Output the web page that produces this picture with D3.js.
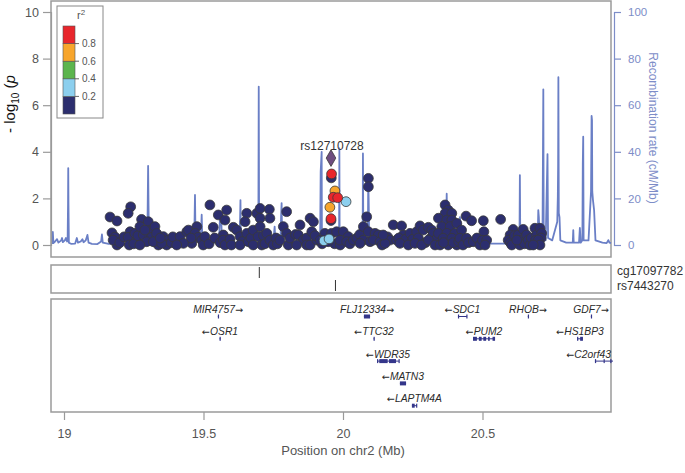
<!DOCTYPE html>
<html><head><meta charset="utf-8">
<script src="https://cdn.jsdelivr.net/npm/d3@7/dist/d3.min.js"></script>
<style>body{margin:0;background:#fff}svg{display:block;font-family:"Liberation Sans",Arial,sans-serif}</style>
</head><body><svg id="c" width="685" height="473"></svg>
<script>
// ---------------- data ----------------
const xDomain = [18.9534, 20.9606];
const xTicks = [19, 19.5, 20, 20.5];
const yTicks = [0, 2, 4, 6, 8, 10];
const recTicks = [0, 20, 40, 60, 80, 100];
const r2Breaks = [0.2, 0.4, 0.6, 0.8];
const r2Labels = ["0.2", "0.4", "0.6", "0.8"];
const r2Colors = ["#2c2e6e", "#8ccfee", "#5cb54d", "#f7a52c", "#e8262c"];

const leadSnp = "rs12710728";
const leadPos = 19.957, leadLogP = 3.73;

// [position (Mb), -log10 p] for SNPs with r2 < 0.2
const lowLdSnps = [
 [19.165,1.20],[19.190,1.03],[19.172,0.52],[19.183,0.34],[19.190,0.00],[19.176,0.21],[19.200,0.10],[19.215,0.35],
 [19.239,1.64],[19.230,1.36],[19.237,0.57],[19.230,0.33],[19.234,0.00],[19.261,0.21],[19.254,0.50],[19.250,0.05],[19.265,0.40],
 [19.278,1.10],[19.302,1.00],[19.272,0.79],[19.308,0.64],[19.326,0.79],[19.284,0.43],[19.314,0.33],[19.332,0.50],
 [19.296,0.14],[19.338,0.00],[19.272,0.00],[19.320,0.14],[19.290,0.64],[19.356,0.36],[19.374,0.21],[19.368,0.00],
 [19.350,0.07],[19.345,0.30],[19.385,0.10],[19.390,0.35],[19.416,0.36],[19.440,0.57],[19.446,0.64],[19.476,0.79],
 [19.470,0.50],[19.481,0.33],[19.494,0.21],[19.499,0.00],[19.458,0.07],[19.455,0.30],[19.428,0.07],[19.404,0.00],
 [19.505,0.36],[19.520,0.05],[19.523,1.72],[19.553,1.29],[19.583,1.50],[19.535,0.76],[19.577,1.07],[19.571,0.43],
 [19.540,0.30],[19.560,0.10],[19.571,0.21],[19.577,0.00],[19.595,0.25],[19.600,0.00],[19.607,0.76],[19.619,0.64],
 [19.631,0.36],[19.640,0.15],[19.655,1.36],[19.649,1.00],[19.655,0.50],[19.631,0.00],[19.661,0.14],[19.670,0.30],
 [19.691,1.36],[19.678,0.64],[19.703,1.57],[19.703,1.15],[19.703,0.79],[19.696,0.36],[19.709,0.00],[19.715,0.40],
 [19.720,0.05],[19.736,1.53],[19.738,1.15],[19.727,0.50],[19.738,0.21],[19.750,0.00],[19.678,0.00],[19.760,0.30],
 [19.765,0.05],[19.798,1.43],[19.786,0.79],[19.798,0.50],[19.774,0.21],[19.804,0.00],[19.810,0.30],[19.830,0.45],
 [19.846,0.86],[19.840,0.43],[19.858,0.21],[19.870,0.30],[19.870,0.00],[19.882,1.15],[19.894,1.00],[19.888,0.57],
 [19.882,0.00],[19.906,0.21],[19.900,0.40],[19.834,0.00],[19.925,0.05],[19.935,0.50],[19.959,0.50],[19.977,0.57],
 [19.970,0.05],[19.990,0.00],[20.001,0.57],[20.019,0.36],[19.918,0.21],[19.947,0.14],[19.989,0.21],[20.013,0.14],
 [20.025,0.05],[20.037,0.21],[20.050,0.30],[20.060,0.45],[20.073,0.79],[20.091,0.57],[20.115,0.50],[20.127,0.43],
 [20.073,0.21],[20.097,0.14],[20.061,0.07],[20.109,0.21],[20.133,0.14],[20.140,0.00],[20.160,0.35],[20.085,1.21],
 [20.091,2.86],[20.091,2.50],[20.180,0.86],[20.168,0.21],[20.192,0.21],[20.151,0.07],[20.210,0.82],[20.144,0.43],
 [20.216,0.43],[20.200,0.30],[20.225,0.25],[20.240,0.50],[20.250,0.25],[20.264,0.57],[20.270,0.30],[20.276,0.82],
 [20.288,0.64],[20.295,0.10],[20.306,0.76],[20.318,0.64],[20.315,0.30],[20.324,0.50],[20.335,0.25],[20.204,0.07],
 [20.234,0.00],[20.258,0.07],[20.282,0.00],[20.306,0.21],[20.330,0.00],[20.366,1.72],[20.377,1.50],[20.366,1.36],
 [20.390,1.36],[20.342,1.15],[20.372,1.07],[20.390,1.07],[20.354,0.79],[20.384,0.79],[20.408,0.93],[20.342,0.50],
 [20.372,0.50],[20.401,0.50],[20.359,0.29],[20.390,0.29],[20.348,0.00],[20.377,0.00],[20.408,0.00],[20.360,0.10],
 [20.395,0.10],[20.415,0.15],[20.425,0.64],[20.419,0.29],[20.430,0.00],[20.441,1.24],[20.461,1.04],[20.503,1.04],
 [20.505,0.57],[20.443,0.29],[20.450,0.10],[20.467,0.14],[20.480,0.30],[20.491,0.00],[20.500,0.20],[20.515,0.21],
 [20.509,0.00],[20.565,1.10],[20.610,0.67],[20.599,0.43],[20.592,0.21],[20.600,0.10],[20.605,0.00],[20.615,0.40],
 [20.628,0.43],[20.646,0.67],[20.640,0.21],[20.634,0.00],[20.650,0.05],[20.658,0.43],[20.664,0.21],[20.670,0.00],
 [20.675,0.30],[20.688,0.72],[20.694,0.43],[20.690,0.20],[20.706,0.72],[20.712,0.50],[20.710,0.30],[20.700,0.21],
 [20.706,0.00],[20.682,0.00],[20.623,0.21],[19.958,2.88],[19.957,1.05]
];
// [position (Mb), -log10 p, r2] for SNPs in LD with the lead SNP
const ldSnps = [
 [19.959,3.05,0.9],[19.971,2.32,0.7],[19.965,2.05,0.9],[19.981,2.03,0.9],[20.011,1.86,0.3],
 [19.953,1.62,0.7],[19.957,1.13,0.9],[19.932,0.18,0.3],[19.950,0.26,0.3]
];

const recPos = [18.953,18.958,18.960,18.962,18.968,18.975,18.980,18.990,18.993,18.996,19.003,19.007,19.011,19.013,19.0145,19.0152,19.016,19.0175,19.025,19.040,19.046,19.050,19.060,19.066,19.070,19.078,19.084,19.088,19.100,19.120,19.133,19.136,19.139,19.160,19.190,19.220,19.250,19.280,19.2985,19.300,19.3015,19.303,19.3045,19.330,19.380,19.420,19.460,19.467,19.4695,19.4715,19.490,19.4935,19.496,19.520,19.540,19.556,19.559,19.5635,19.566,19.590,19.600,19.603,19.625,19.631,19.6325,19.634,19.660,19.690,19.6965,19.698,19.6995,19.720,19.750,19.755,19.758,19.776,19.778,19.780,19.782,19.800,19.850,19.900,19.918,19.920,19.9235,19.9245,19.960,19.986,19.987,19.988,20.030,20.0705,20.0715,20.073,20.089,20.0905,20.092,20.094,20.120,20.200,20.300,20.360,20.370,20.3717,20.374,20.390,20.410,20.419,20.425,20.450,20.500,20.600,20.6325,20.634,20.6355,20.680,20.698,20.700,20.702,20.705,20.715,20.718,20.7195,20.7265,20.733,20.735,20.750,20.768,20.770,20.771,20.772,20.7735,20.776,20.779,20.800,20.8235,20.8254,20.827,20.846,20.849,20.852,20.858,20.8595,20.861,20.8625,20.880,20.889,20.891,20.8925,20.8935,20.896,20.900,20.905,20.930,20.945,20.951,20.955,20.9606];
const recRate = [1.0,0.8,5.6,0.8,1.5,2.5,1.0,2.0,3.0,1.2,2.0,3.0,1.5,2.5,18,33,18,1.0,0.5,0.6,3.0,1.0,1.5,2.5,1.2,2.0,4.3,1.0,0.5,0.4,1.5,4.5,1.0,0.5,0.4,0.5,0.6,0.6,1.0,17,34,17,1.0,0.5,0.5,0.6,0.8,4,21.5,3,2,13,2,1.5,1.0,3,11.6,12,2,1.0,3.6,1.0,1.0,10,19.3,1.5,0.6,0.6,1,68,1,0.6,1.0,7.9,1.0,1.5,12,18,1.5,0.8,0.6,0.6,1.0,31.5,40,2,1.5,2,41.5,2,1.0,2,39.3,2,3,28,20,2,1.0,0.8,1.0,3,10,22,6,4,5,12,3,1,0.6,0.6,1,30,1,1.5,4,15,12,2,3,66.8,3,2,39,3,2,10,20.7,33.6,72,13.7,12,2,1,1,6.4,1,1,7.3,1,2,35,46.5,2,2,22.9,55.4,53.6,22.9,19.3,15,2,1,0.8,2.1,1,0.8];

const trackNames = ["cg17097782", "rs7443270"];
const trackPos = [19.700, 19.973];

const geneNames = ["MIR4757","FLJ12334","SDC1","RHOB","GDF7","OSR1","TTC32","PUM2","HS1BP3","WDR35","C2orf43","MATN3","LAPTM4A"];
const geneStart = [19.5515,20.075,20.412,20.6625,20.8885,19.5575,20.1095,20.466,20.839,20.122,20.903,20.204,20.247];
const geneEnd   = [19.5525,20.097,20.444,20.6635,20.8895,19.5615,20.1125,20.545,20.860,20.201,20.968,20.226,20.265];
const geneStrand = ["+","+","-","+","+","-","-","-","-","-","-","-","-"];
const geneRow = [0,0,0,0,0,1,1,1,1,2,2,3,4];
const geneExons = [
  [[19.5515,19.5525]],[[20.075,20.097]],[[20.412,20.414],[20.442,20.444]],[[20.6625,20.6635]],[[20.8885,20.8895]],
  [[19.5575,19.5615]],[[20.1095,20.1125]],
  [[20.466,20.480],[20.487,20.497],[20.503,20.513],[20.520,20.526],[20.536,20.545]],
  [[20.839,20.841],[20.850,20.860]],
  [[20.122,20.124],[20.130,20.160],[20.165,20.190],[20.199,20.201]],
  [[20.903,20.905],[20.934,20.936],[20.958,20.960]],
  [[20.204,20.226]],[[20.247,20.257],[20.262,20.265]]
];

// ---------------- layout ----------------
const svg = d3.select("#c");
const L = 51, R = 611, T = 1, B = 257;
const x = d3.scaleLinear().domain(xDomain).range([L, R]);
const y = d3.scaleLinear().domain([0, 10]).range([245, 12]);
const yr = d3.scaleLinear().domain([0, 100]).range([245, 12]);
const col = d3.scaleThreshold().domain(r2Breaks).range(r2Colors);
const grey = "#555", frame = "#9a9a9a", blue = "#6a7fc6", axBlue = "#7d8dc8";

svg.append("defs").append("clipPath").attr("id", "clip")
  .append("rect").attr("x", L).attr("y", T).attr("width", R - L + 3).attr("height", B - T);

svg.append("rect").attr("x", L).attr("y", T).attr("width", R - L).attr("height", B - T)
  .attr("fill", "none").attr("stroke", frame).attr("stroke-width", 1.5);

const g = svg.append("g").attr("clip-path", "url(#clip)");
g.append("path").datum(recPos.map((p, i) => [p, recRate[i]]))
  .attr("fill", "none").attr("stroke", blue).attr("stroke-width", 1.8).attr("stroke-linejoin", "round")
  .attr("d", d3.line().x(d => x(d[0])).y(d => yr(d[1])));

const allSnps = lowLdSnps.map(d => [d[0], d[1], 0.1]).concat(ldSnps.slice().sort((a, b) => a[2] - b[2]));
g.selectAll("circle.snp").data(allSnps).join("circle")
  .attr("cx", d => x(d[0])).attr("cy", d => y(d[1])).attr("r", 4.9)
  .attr("fill", d => col(d[2])).attr("stroke", "#3a3a3a").attr("stroke-width", 0.8);
g.append("path").attr("d", d3.symbol(d3.symbolDiamond, 80)())
  .attr("transform", `translate(${x(leadPos)},${y(leadLogP)})`)
  .attr("fill", "#6e4d80").attr("stroke", "#3a3a3a").attr("stroke-width", 0.8);
svg.append("text").attr("x", x(leadPos) + 1).attr("y", 150).attr("text-anchor", "middle")
  .style("font-size", "12px").attr("fill", "#333").text(leadSnp);

// left axis
const ya = svg.append("g").attr("transform", `translate(${L},0)`)
  .call(d3.axisLeft(y).tickValues(yTicks).tickSize(8).tickPadding(4));
ya.select(".domain").attr("stroke", frame).attr("stroke-width", 1.2);
ya.selectAll(".tick line").attr("stroke", frame).attr("stroke-width", 1.2);
ya.selectAll(".tick text").attr("fill", grey).style("font-size", "12.5px").style("font-family", "Liberation Sans, Arial");

const yt = svg.append("text").attr("transform", "translate(15,104) rotate(-90)")
  .attr("text-anchor", "middle").style("font-size", "15px").attr("fill", "#111");
yt.append("tspan").text("- log");
yt.append("tspan").attr("dy", 4).style("font-size", "10px").text("10");
yt.append("tspan").attr("dy", -4).text(" (");
yt.append("tspan").style("font-style", "italic").text("p");

// right axis
const ra = svg.append("g").attr("transform", "translate(614,0)")
  .call(d3.axisRight(yr).tickValues(recTicks).tickSize(7).tickPadding(7));
ra.select(".domain").attr("stroke", axBlue).attr("stroke-width", 1.2);
ra.selectAll(".tick line").attr("stroke", axBlue).attr("stroke-width", 1.2);
ra.selectAll(".tick text").attr("fill", axBlue).style("font-size", "11.5px").style("font-family", "Liberation Sans, Arial");
svg.append("text").attr("transform", "translate(649,128) rotate(90)").attr("text-anchor", "middle")
  .style("font-size", "12px").attr("fill", axBlue).text("Recombination rate (cM/Mb)");

// legend
const lg = svg.append("g");
lg.append("rect").attr("x", 57).attr("y", 6).attr("width", 46).attr("height", 112)
  .attr("fill", "#fff").attr("stroke", "#888").attr("stroke-width", 1);
const ly = d3.scaleLinear().domain([1, 0]).range([26, 114]);
const bands = [0, 0.2, 0.4, 0.6, 0.8, 1];
lg.selectAll("rect.band").data(d3.range(5)).join("rect")
  .attr("x", 63).attr("width", 12).attr("y", i => ly(bands[i + 1])).attr("height", i => ly(bands[i]) - ly(bands[i + 1]))
  .attr("fill", i => r2Colors[i]).attr("stroke", "#555").attr("stroke-width", 0.6);
lg.selectAll("line.tk").data(r2Breaks).join("line")
  .attr("x1", 75).attr("x2", 79).attr("y1", d => ly(d)).attr("y2", d => ly(d)).attr("stroke", "#666");
lg.selectAll("text.tl").data(r2Breaks).join("text")
  .attr("x", 82).attr("y", d => ly(d) + 3.5).style("font-size", "10px").attr("fill", grey)
  .text((d, i) => r2Labels[i]);
const rt = lg.append("text").attr("x", 77).attr("y", 19).style("font-size", "11px").attr("fill", grey);
rt.append("tspan").text("r");
rt.append("tspan").attr("dy", -4).style("font-size", "8px").text("2");

// SNP track panel
svg.append("rect").attr("x", L).attr("y", 265).attr("width", R - L).attr("height", 28)
  .attr("fill", "none").attr("stroke", frame).attr("stroke-width", 1.5);
trackPos.forEach((p, i) => {
  svg.append("line").attr("x1", x(p)).attr("x2", x(p)).attr("y1", 267 + i * 13).attr("y2", 278 + i * 13)
    .attr("stroke", "#333").attr("stroke-width", 1);
  svg.append("text").attr("x", 617).attr("y", 275 + i * 15).style("font-size", "12px").attr("fill", "#333").text(trackNames[i]);
});

// gene panel
svg.append("rect").attr("x", L).attr("y", 299).attr("width", R - L).attr("height", 113)
  .attr("fill", "none").attr("stroke", frame).attr("stroke-width", 1.5);
const gg = svg.append("g");
geneNames.forEach((name, i) => {
  const row = geneRow[i], by = 314.5 + row * 22.3;
  const x0 = x(geneStart[i]), x1 = Math.min(x(geneEnd[i]), R + 2);
  gg.append("line").attr("x1", x0).attr("x2", x1).attr("y1", by + 2).attr("y2", by + 2).attr("stroke", "#34368a").attr("stroke-width", 1);
  geneExons[i].forEach(e => {
    const a = x(e[0]), b = Math.min(x(e[1]), R + 2);
    gg.append("rect").attr("x", a).attr("y", by).attr("width", Math.max(b - a, 1.2)).attr("height", 4).attr("fill", "#34368a");
  });
  const t = gg.append("text").attr("y", by - 1.5).attr("text-anchor", "middle")
    .style("font-size", "10.3px").style("font-style", "italic").attr("fill", "#2a2a2a");
  const arrow = () => t.append("tspan").style("font-family", "DejaVu Sans").style("font-style", "normal").style("font-size", "9.5px");
  if (geneStrand[i] === "+") { t.append("tspan").text(name); arrow().text("\u2192"); }
  else { arrow().text("\u2190"); t.append("tspan").text(name); }
  const cx = (x0 + x1) / 2;
  t.attr("x", cx);
  const w = t.node().getComputedTextLength();
  if (cx + w / 2 > R) t.attr("x", R - w / 2);
});

// bottom axis
const xa = svg.append("g").attr("transform", "translate(0,412)")
  .call(d3.axisBottom(x).tickValues(xTicks).tickSize(8).tickPadding(9).tickFormat(d3.format("")));
xa.select(".domain").remove();
xa.selectAll(".tick line").attr("stroke", frame).attr("stroke-width", 1.2);
xa.selectAll(".tick text").attr("fill", grey).style("font-size", "12.5px").style("font-family", "Liberation Sans, Arial");
svg.append("text").attr("x", 343).attr("y", 455).attr("text-anchor", "middle")
  .style("font-size", "13px").attr("fill", grey).text("Position on chr2 (Mb)");
</script></body></html>
